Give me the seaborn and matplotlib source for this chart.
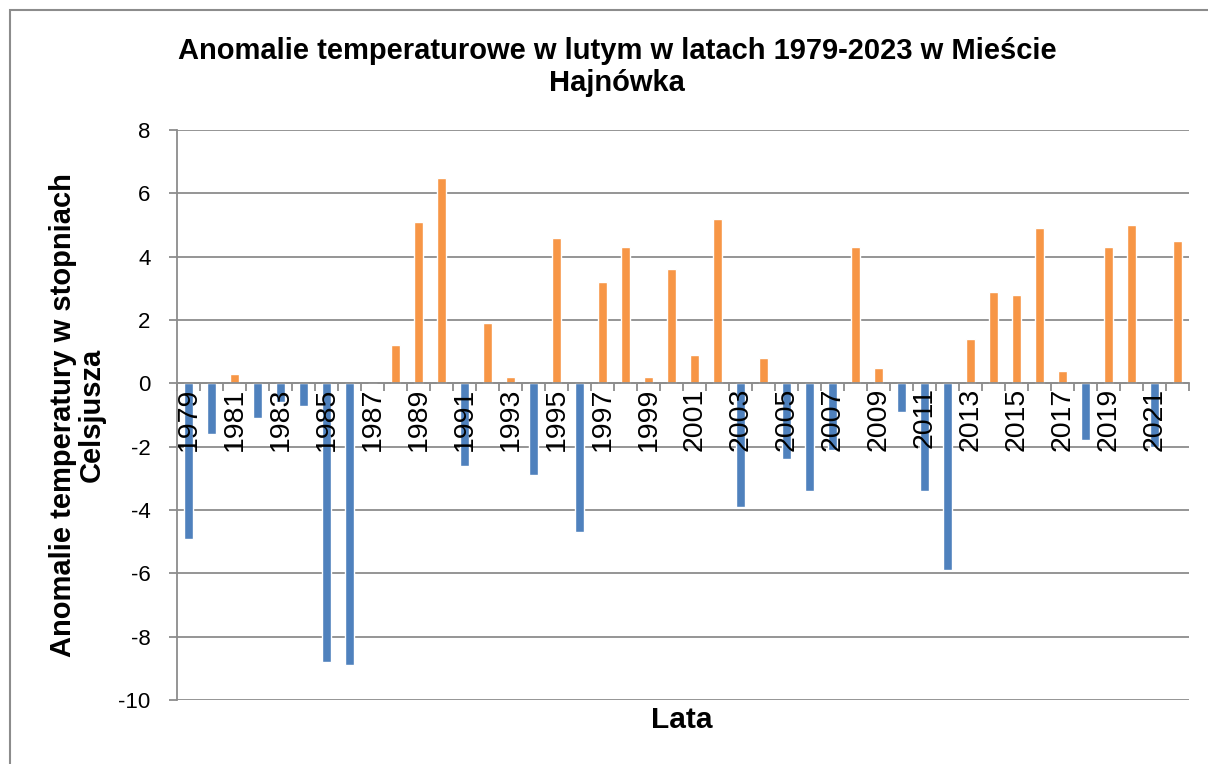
import numpy as np
import pandas as pd
import matplotlib
matplotlib.use("Agg")
import matplotlib.pyplot as plt
from matplotlib.patches import Rectangle
from matplotlib.ticker import FixedLocator
import seaborn as sns

# ---- data ----
years = list(range(1979, 2023))
anomalies = [-4.9, -1.6, 0.3, -1.1, -0.6, -0.7, -8.8, -8.9, 0.0, 1.2,
             5.1, 6.5, -2.6, 1.9, 0.2, -2.9, 4.6, -4.7, 3.2, 4.3,
             0.2, 3.6, 0.9, 5.2, -3.9, 0.8, -2.4, -3.4, -2.1, 4.3,
             0.5, -0.9, -3.4, -5.9, 1.4, 2.9, 2.8, 4.9, 0.4, -1.8,
             4.3, 5.0, -2.0, 4.5]
series_names = ["ujemne", "dodatnie"]
series_colors = ["#4F81BD", "#F79646"]
yticks = [8, 6, 4, 2, 0, -2, -4, -6, -8, -10]

title = "Anomalie temperaturowe w lutym w latach 1979-2023 w Mieście\nHajnówka"
ylabel = "Anomalie temperatury w stopniach\nCelsjusza"
xlabel = "Lata"

df = pd.DataFrame({
    "rok": [str(y) for y in years],
    "anomalia": anomalies,
    "seria": [series_names[1] if v > 0 else series_names[0] for v in anomalies],
})

sns.set_theme(style="white")
plt.rcParams["font.family"] = ["Liberation Sans", "DejaVu Sans"]
plt.rcParams["text.color"] = "black"
plt.rcParams["axes.labelcolor"] = "black"

fig = plt.figure(figsize=(12.08, 7.64), dpi=100)
ax = fig.add_axes([177/1208, 1-700/764, (1189-177)/1208, (700-130)/764])

grey = "#8c8c8c"
ax.set_axisbelow("line")
sns.barplot(data=df, x="rok", y="anomalia", hue="seria", hue_order=series_names,
            palette=dict(zip(series_names, series_colors)), dodge=False,
            width=0.42, saturation=1, legend=False, ax=ax, errorbar=None,
            order=[str(y) for y in years])

ax.set_ylim(-10, 8)
ax.set_xlim(-0.5, len(years) - 0.5)
ax.set_yticks(yticks)
ax.set_yticklabels([str(t) for t in yticks], fontsize=16)
ax.hlines(yticks, -0.5, len(years) - 0.5, colors=grey, linewidth=1.3, zorder=0.5)

for s in ["top", "right"]:
    ax.spines[s].set_visible(False)
ax.spines["left"].set_color(grey)
ax.spines["left"].set_linewidth(1.3)
ax.spines["bottom"].set_position(("data", 0))
ax.spines["bottom"].set_color(grey)
ax.spines["bottom"].set_linewidth(1.3)
ax.tick_params(axis="y", which="major", direction="out", length=6, width=1.3,
               color=grey, pad=13, left=True, labelcolor="black")

# x ticks: labels every other year at category centres, tick marks at boundaries
label_pos = list(range(0, len(years), 2))
ax.xaxis.set_major_locator(FixedLocator(label_pos))
ax.set_xticklabels([str(years[i]) for i in label_pos], rotation=90, fontsize=20.5)
ax.xaxis.set_minor_locator(FixedLocator(np.arange(-0.5, len(years), 1.0)))
ax.tick_params(axis="x", which="major", length=0, pad=3, bottom=True, labelcolor="black")
ax.tick_params(axis="x", which="minor", direction="out", length=6, width=1.3,
               color=grey, bottom=True)
ax.set_xlabel("")
ax.set_ylabel("")

fig.text(0.511, 0.912, title, ha="center", va="center", fontsize=21,
         fontweight="bold", multialignment="center", linespacing=1.2)
fig.text(0.064, 0.457, ylabel, ha="center", va="center", rotation=90,
         fontsize=21, fontweight="bold", multialignment="center", linespacing=1.05)
fig.text(0.5646, 0.0576, xlabel, ha="center", va="center", fontsize=21.5,
         fontweight="bold")

# chart-area border
fig.patches.append(Rectangle((10/1208, -0.1), 1.2, 1 - 10/764 + 0.1,
                             transform=fig.transFigure, fill=False,
                             edgecolor="#8c8c8c", linewidth=1.5))

fig.savefig("out.png", dpi=100, facecolor="white")
